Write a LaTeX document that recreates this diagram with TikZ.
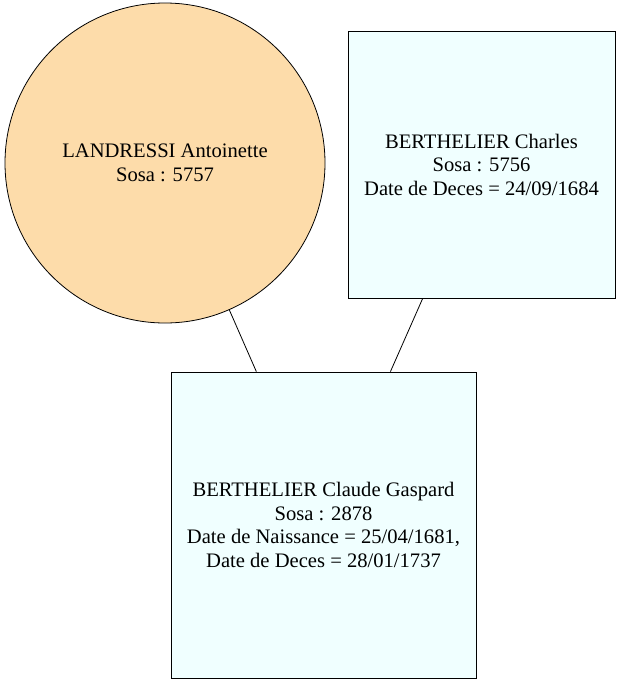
\documentclass[tikz,border=0pt]{standalone}
\usepackage{fontspec}
\setmainfont{Liberation Serif}
\definecolor{personf}{HTML}{FDDCAA}
\definecolor{personm}{HTML}{F0FFFF}
\begin{document}
\begin{tikzpicture}[x=1pt, y=-1pt, line width=0.8pt, font=\fontsize{20.6}{23.5}\selectfont,
  woman/.style={circle, draw=black, fill=personf, minimum size=320pt, inner sep=0pt, align=center},
  man/.style={rectangle, draw=black, fill=personm, inner sep=0pt, align=center}]
\useasboundingbox (0,0) rectangle (621,683);

\node[woman] (antoinette) at (165,163) {LANDRESSI Antoinette\\Sosa : 5757};
\node[man, minimum width=267pt, minimum height=267pt] (charles) at (481.5,164.5)
  {BERTHELIER Charles\\Sosa : 5756\\Date de Deces = 24/09/1684};
\node[man, minimum width=305pt, minimum height=306pt] (claude) at (323.5,525)
  {BERTHELIER Claude Gaspard\\Sosa : 2878\\Date de Naissance = 25/04/1681,\\Date de Deces = 28/01/1737};

\draw (antoinette) -- (claude);
\draw (charles) -- (claude);
\end{tikzpicture}
\end{document}
